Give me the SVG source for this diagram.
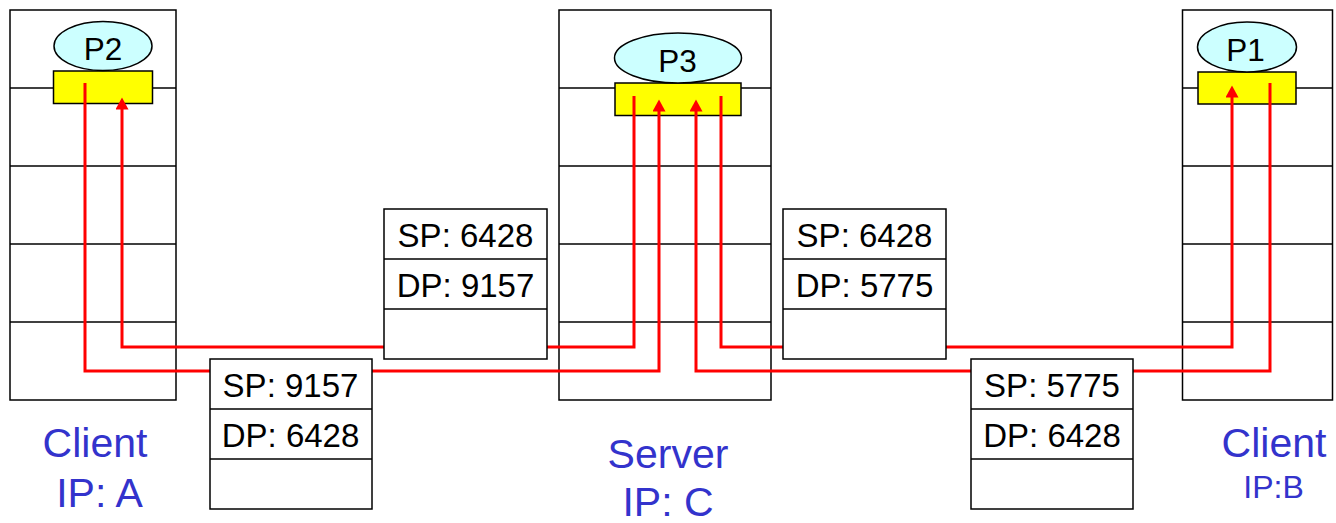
<svg xmlns="http://www.w3.org/2000/svg" width="1336" height="523" viewBox="0 0 1336 523">
<style>
.stack{fill:#fff;stroke:#000;stroke-width:1.5}
.layer{stroke:#000;stroke-width:1.5}
.sock{fill:#ffff00;stroke:#000;stroke-width:1.5}
.proc{fill:#ccffff;stroke:#000;stroke-width:1.5}
.ptxt{font-family:"Liberation Sans",Arial,sans-serif;font-size:31.5px;fill:#000;text-anchor:middle}
.seg{fill:#fff;stroke:#000;stroke-width:1.5}
.stxt{font-family:"Liberation Sans",Arial,sans-serif;font-size:33px;fill:#000;text-anchor:middle}
.lbl{font-family:"Liberation Sans",Arial,sans-serif;font-size:41px;fill:#3333cc;text-anchor:middle}
.wire{fill:none;stroke:#ff0000;stroke-width:3}
</style>
<defs>
<marker id="ah" markerUnits="userSpaceOnUse" markerWidth="13" markerHeight="13" viewBox="0 0 13 13" refX="0.5" refY="6.5" orient="auto">
<path d="M0,0 L12,6.5 L0,13 z" fill="#ff0000"/>
</marker>
</defs>

<g id="clientA">
<rect class="stack" x="10" y="10" width="166" height="390"/>
<line class="layer" x1="10" y1="88" x2="176" y2="88"/>
<line class="layer" x1="10" y1="166" x2="176" y2="166"/>
<line class="layer" x1="10" y1="244" x2="176" y2="244"/>
<line class="layer" x1="10" y1="322" x2="176" y2="322"/>
<rect class="sock" x="53.5" y="71" width="99" height="32.5"/>
<ellipse class="proc" cx="103" cy="46" rx="49" ry="24.5"/>
<text class="ptxt" x="103" y="60">P2</text>
<text class="lbl" x="95" y="457">Client</text>
<text class="lbl" x="99.5" y="507">IP: A</text>
</g>

<g id="server">
<rect class="stack" x="559" y="10" width="212" height="390"/>
<line class="layer" x1="559" y1="88" x2="771" y2="88"/>
<line class="layer" x1="559" y1="166" x2="771" y2="166"/>
<line class="layer" x1="559" y1="244" x2="771" y2="244"/>
<line class="layer" x1="559" y1="322" x2="771" y2="322"/>
<rect class="sock" x="615" y="83" width="126" height="32.5"/>
<ellipse class="proc" cx="678" cy="58" rx="63.5" ry="25"/>
<text class="ptxt" x="677.5" y="72">P3</text>
<text class="lbl" x="668" y="468">Server</text>
<text class="lbl" x="668" y="516">IP: C</text>
</g>

<g id="clientB">
<rect class="stack" x="1182.5" y="10" width="150" height="390"/>
<line class="layer" x1="1182.5" y1="88" x2="1332.5" y2="88"/>
<line class="layer" x1="1182.5" y1="166" x2="1332.5" y2="166"/>
<line class="layer" x1="1182.5" y1="244" x2="1332.5" y2="244"/>
<line class="layer" x1="1182.5" y1="322" x2="1332.5" y2="322"/>
<rect class="sock" x="1198" y="72" width="98" height="32"/>
<ellipse class="proc" cx="1247" cy="47" rx="49.5" ry="25"/>
<text class="ptxt" x="1245.5" y="61">P1</text>
<text class="lbl" x="1274" y="457">Client</text>
<text class="lbl" x="1273.5" y="498" style="font-size:32px">IP:B</text>
</g>

<g id="connectors">
<path class="wire" d="M85,83 V371 H659 V111" marker-end="url(#ah)"/>
<path class="wire" d="M634,96 V347 H122 V109" marker-end="url(#ah)"/>
<path class="wire" d="M1270,83 V371 H696 V111" marker-end="url(#ah)"/>
<path class="wire" d="M721,96 V347 H1232 V97" marker-end="url(#ah)"/>
</g>

<g id="segA2C">
<rect class="seg" x="210" y="359" width="162" height="150"/>
<line class="layer" x1="210" y1="409" x2="372" y2="409"/>
<line class="layer" x1="210" y1="459" x2="372" y2="459"/>
<text class="stxt" x="290.5" y="397">SP: 9157</text>
<text class="stxt" x="290.5" y="447">DP: 6428</text>
</g>

<g id="segC2A">
<rect class="seg" x="384" y="209" width="163" height="150"/>
<line class="layer" x1="384" y1="259" x2="547" y2="259"/>
<line class="layer" x1="384" y1="309" x2="547" y2="309"/>
<text class="stxt" x="465.5" y="247">SP: 6428</text>
<text class="stxt" x="465.5" y="297">DP: 9157</text>
</g>

<g id="segC2B">
<rect class="seg" x="783" y="209" width="163" height="150"/>
<line class="layer" x1="783" y1="259" x2="946" y2="259"/>
<line class="layer" x1="783" y1="309" x2="946" y2="309"/>
<text class="stxt" x="864.5" y="247">SP: 6428</text>
<text class="stxt" x="864.5" y="297">DP: 5775</text>
</g>

<g id="segB2C">
<rect class="seg" x="971" y="359" width="162" height="150"/>
<line class="layer" x1="971" y1="409" x2="1133" y2="409"/>
<line class="layer" x1="971" y1="459" x2="1133" y2="459"/>
<text class="stxt" x="1052" y="397">SP: 5775</text>
<text class="stxt" x="1052" y="447">DP: 6428</text>
</g>
</svg>
